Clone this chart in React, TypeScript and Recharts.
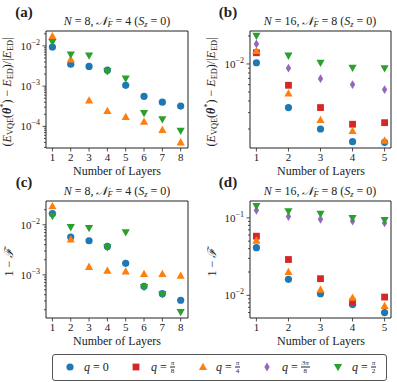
import React from 'react';
import { ReferenceArea, Scatter, ScatterChart, XAxis, YAxis } from 'recharts';

const LAYERS_N8 = [1, 2, 3, 4, 5, 6, 7, 8];
const LAYERS_N16 = [1, 2, 3, 4, 5];

// (a) relative energy error, N = 8
const ENERGY_N8_Q0 = [9.4e-3, 3.5e-3, 3.1e-3, 2.5e-3, 1.05e-3, 5.6e-4, 4.0e-4, 3.2e-4];
const ENERGY_N8_QPI4 = [1.74e-2, 4.6e-3, 4.4e-4, 2.4e-4, 1.7e-4, 1.3e-4, 8.1e-5, 4.0e-5];
const ENERGY_N8_QPI2 = [1.26e-2, 6.1e-3, 5.8e-3, 2.35e-3, 1.55e-3, 2.15e-4, 1.5e-4, 7.8e-5];

// (b) relative energy error, N = 16
const ENERGY_N16_Q0 = [1.03e-2, 3.4e-3, 2.0e-3, 1.46e-3, 1.44e-3];
const ENERGY_N16_QPI8 = [1.32e-2, 5.9e-3, 3.4e-3, 2.25e-3, 2.34e-3];
const ENERGY_N16_QPI4 = [1.38e-2, 4.8e-3, 2.5e-3, 1.9e-3, 1.5e-3];
const ENERGY_N16_Q3PI8 = [1.64e-2, 9.0e-3, 6.95e-3, 6.0e-3, 5.3e-3];
const ENERGY_N16_QPI2 = [2.01e-2, 1.23e-2, 1.03e-2, 9.1e-3, 9.0e-3];

// (c) infidelity, N = 8
const INFID_N8_Q0 = [1.67e-2, 5.7e-3, 4.8e-3, 3.7e-3, 1.7e-3, 5.9e-4, 4.2e-4, 3.1e-4];
const INFID_N8_QPI4 = [2.34e-2, 5.06e-3, 1.44e-3, 1.21e-3, 1.16e-3, 1.04e-3, 1.04e-3, 9.6e-4];
const INFID_N8_QPI2 = [1.5e-2, 9.0e-3, 8.6e-3, 3.55e-3, 7.1e-3, 5.7e-4, 4.1e-4, 1.8e-4];

// (d) infidelity, N = 16
const INFID_N16_Q0 = [0.0412, 0.0161, 0.0105, 7.6e-3, 6.0e-3];
const INFID_N16_QPI8 = [0.058, 0.029, 0.0164, 8.2e-3, 9.5e-3];
const INFID_N16_QPI4 = [0.0508, 0.02, 0.0118, 9.3e-3, 7.3e-3];
const INFID_N16_Q3PI8 = [0.125, 0.104, 0.096, 0.091, 0.086];
const INFID_N16_QPI2 = [0.142, 0.122, 0.113, 0.0995, 0.094];

const FONT = '"Liberation Serif", "DejaVu Serif", serif';
const INK = '#222';
const Y_AXIS_W = 40;
const X_AXIS_H = 24;

type Kind = 'circle' | 'square' | 'triangle' | 'diamond' | 'down';

const Q_STYLE: Record<string, { color: string; kind: Kind }> = {
  q0: { color: '#1f77b4', kind: 'circle' },
  qpi8: { color: '#d62728', kind: 'square' },
  qpi4: { color: '#ff7f0e', kind: 'triangle' },
  q3pi8: { color: '#9467bd', kind: 'diamond' },
  qpi2: { color: '#2ca02c', kind: 'down' },
};

function Marker({ kind, cx, cy, color }: { kind: Kind; cx: number; cy: number; color: string }) {
  if (cx == null || cy == null) return null;
  switch (kind) {
    case 'circle':
      return <circle cx={cx} cy={cy} r={3.6} fill={color} />;
    case 'square':
      return <rect x={cx - 3.4} y={cy - 3.4} width={6.8} height={6.8} fill={color} />;
    case 'triangle':
      return <polygon points={`${cx},${cy - 4.3} ${cx + 4.1},${cy + 3} ${cx - 4.1},${cy + 3}`} fill={color} />;
    case 'down':
      return <polygon points={`${cx},${cy + 4.3} ${cx + 4.1},${cy - 3} ${cx - 4.1},${cy - 3}`} fill={color} />;
    case 'diamond':
      return <polygon points={`${cx},${cy - 4.4} ${cx + 2.7},${cy} ${cx},${cy + 4.4} ${cx - 2.7},${cy}`} fill={color} />;
  }
  return null;
}

function logTicks(domain: [number, number]) {
  const out: number[] = [];
  const lo = Math.floor(Math.log10(domain[0]));
  const hi = Math.ceil(Math.log10(domain[1]));
  for (let e = lo; e <= hi; e++) {
    for (let m = 1; m <= 9; m++) {
      const v = Number((m * Math.pow(10, e)).toPrecision(3));
      if (v >= domain[0] && v <= domain[1]) out.push(v);
    }
  }
  return out;
}

function YTick(props: any) {
  const { x, y, payload } = props;
  const v = payload.value as number;
  const exp = Math.round(Math.log10(v));
  const major = Math.abs(Math.log10(v) - exp) < 1e-6;
  return (
    <g>
      <line x1={x} x2={x - (major ? 3.5 : 2)} y1={y} y2={y} stroke={INK} strokeWidth={0.8} />
      {major && (
        <text x={x - 6} y={y + 4} textAnchor="end" fontFamily={FONT} fontSize={11} fill={INK}>
          <tspan>10</tspan>
          <tspan dy={-5} fontSize={8}>{`\u2212${Math.abs(exp)}`}</tspan>
        </text>
      )}
    </g>
  );
}

function XTick(props: any) {
  const { x, y, payload } = props;
  return (
    <g>
      <line x1={x} x2={x} y1={y} y2={y + 3.5} stroke={INK} strokeWidth={0.8} />
      <text x={x} y={y + 13} textAnchor="middle" fontFamily={FONT} fontSize={11} fill={INK}>
        {payload.value}
      </text>
    </g>
  );
}

type Series = { key: string; values: number[] };
type Box = { x0: number; y0: number; x1: number; y1: number };

function Panel({
  left,
  top,
  width,
  height,
  plot,
  xDomain,
  yDomain,
  layers,
  series,
}: {
  left: number;
  top: number;
  width: number;
  height: number;
  plot: Box;
  xDomain: [number, number];
  yDomain: [number, number];
  layers: number[];
  series: Series[];
}) {
  const margin = {
    left: plot.x0 - left - Y_AXIS_W,
    top: plot.y0 - top,
    right: left + width - plot.x1,
    bottom: top + height - plot.y1 - X_AXIS_H,
  };
  return (
    <div style={{ position: 'absolute', left, top }}>
      <ScatterChart width={width} height={height} margin={margin}>
        <XAxis
          type="number"
          dataKey="x"
          domain={xDomain}
          ticks={layers}
          interval={0}
          allowDataOverflow
          height={X_AXIS_H}
          tickSize={0}
          tickMargin={0}
          axisLine={false}
          tickLine={false}
          tick={(p: any) => <XTick {...p} />}
        />
        <YAxis
          type="number"
          dataKey="y"
          scale="log"
          domain={yDomain}
          ticks={logTicks(yDomain)}
          interval={0}
          allowDataOverflow
          width={Y_AXIS_W}
          tickSize={0}
          tickMargin={0}
          axisLine={false}
          tickLine={false}
          tick={(p: any) => <YTick {...p} />}
        />
        <ReferenceArea
          x1={xDomain[0]}
          x2={xDomain[1]}
          y1={yDomain[0]}
          y2={yDomain[1]}
          fill="none"
          stroke={INK}
          strokeWidth={1}
          ifOverflow="visible"
        />
        {series.map((s) => {
          const st = Q_STYLE[s.key];
          const data = layers.map((x, i) => ({ x, y: s.values[i] }));
          return (
            <Scatter
              key={s.key}
              data={data}
              isAnimationActive={false}
              shape={(p: any) => <Marker kind={st.kind} cx={p.cx} cy={p.cy} color={st.color} />}
            />
          );
        })}
      </ScatterChart>
    </div>
  );
}

const sub: React.CSSProperties = { fontSize: '70%', verticalAlign: '-0.3em', fontStyle: 'normal' };
const sup: React.CSSProperties = { fontSize: '70%', verticalAlign: '0.5em' };

function Abs({ x, y, children, size = 12, rotate = false, weight = 400 }: any) {
  return (
    <div
      style={{
        position: 'absolute',
        left: x,
        top: y,
        transform: `translate(-50%, -50%)${rotate ? ' rotate(-90deg)' : ''}`,
        whiteSpace: 'nowrap',
        fontFamily: FONT,
        fontSize: size,
        fontWeight: weight,
        color: INK,
        lineHeight: 1,
      }}
    >
      {children}
    </div>
  );
}

function Title({ n, nf }: { n: number; nf: number }) {
  return (
    <>
      <i>N</i> = {n}, <i>{'\u{1D4A9}'}</i>
      <span style={sub}>
        <i>F</i>
      </span>{' '}
      = {nf} (<i>S</i>
      <span style={sub}>
        <i>z</i>
      </span>{' '}
      = 0)
    </>
  );
}

function EnergyLabel() {
  return (
    <>
      (<i>E</i>
      <span style={sub}>VQE</span>(<b>
        <i>θ</i>
      </b>
      <span style={sup}>*</span>) − <i>E</i>
      <span style={sub}>ED</span>)/|<i>E</i>
      <span style={sub}>ED</span>|
    </>
  );
}

function Frac({ num, den }: { num: string; den: string }) {
  return (
    <span
      style={{
        display: 'inline-flex',
        flexDirection: 'column',
        alignItems: 'center',
        fontSize: 7,
        lineHeight: '7px',
        verticalAlign: 'middle',
      }}
    >
      <span style={{ borderBottom: `0.6px solid ${INK}`, padding: '0 1px', fontStyle: 'italic' }}>{num}</span>
      <span>{den}</span>
    </span>
  );
}

const LEGEND_ITEMS: { key: string; mx: number; tx: number; label: React.ReactNode }[] = [
  { key: 'q0', mx: 69.5, tx: 84, label: <>= 0</> },
  { key: 'qpi8', mx: 136, tx: 151, label: <>= <Frac num="π" den="8" /></> },
  { key: 'qpi4', mx: 202.5, tx: 216, label: <>= <Frac num="π" den="4" /></> },
  { key: 'q3pi8', mx: 267, tx: 282, label: <>= <Frac num="3π" den="8" /></> },
  { key: 'qpi2', mx: 338, tx: 352, label: <>= <Frac num="π" den="2" /></> },
];

function LegendBox() {
  return (
    <>
      <div
        style={{
          position: 'absolute',
          left: 52,
          top: 354,
          width: 333,
          height: 25,
          border: '1px solid #555',
          borderRadius: 3,
        }}
      />
      {LEGEND_ITEMS.map((it) => {
        const st = Q_STYLE[it.key];
        return (
          <React.Fragment key={it.key}>
            <svg style={{ position: 'absolute', left: it.mx - 6, top: 366.5 - 6 }} width={12} height={12}>
              <Marker kind={st.kind} cx={6} cy={6} color={st.color} />
            </svg>
            <div
              style={{
                position: 'absolute',
                left: it.tx,
                top: 366.5,
                transform: 'translateY(-50%)',
                whiteSpace: 'nowrap',
                fontFamily: FONT,
                fontSize: 12,
                color: INK,
                lineHeight: 1,
                display: 'flex',
                alignItems: 'center',
                gap: 3,
              }}
            >
              <i>q</i>
              <span style={{ display: 'inline-flex', alignItems: 'center', gap: 3 }}>{it.label}</span>
            </div>
          </React.Fragment>
        );
      })}
    </>
  );
}

export default function App() {
  const N8: [number, number] = [0.65, 8.4];
  const N16: [number, number] = [0.8, 5.2];
  return (
    <div style={{ position: 'absolute', left: 0, top: 0, width: 397, height: 382, background: '#fff', overflow: 'hidden' }}>
      <Panel
        left={0}
        top={0}
        width={196}
        height={176}
        plot={{ x0: 46, y0: 31, x1: 188, y1: 148 }}
        xDomain={N8}
        yDomain={[2.9e-5, 2.35e-2]}
        layers={LAYERS_N8}
        series={[
          { key: 'q0', values: ENERGY_N8_Q0 },
          { key: 'qpi4', values: ENERGY_N8_QPI4 },
          { key: 'qpi2', values: ENERGY_N8_QPI2 },
        ]}
      />
      <Panel
        left={200}
        top={0}
        width={197}
        height={176}
        plot={{ x0: 250, y0: 31, x1: 391, y1: 148 }}
        xDomain={N16}
        yDomain={[1.25e-3, 2.26e-2]}
        layers={LAYERS_N16}
        series={[
          { key: 'q0', values: ENERGY_N16_Q0 },
          { key: 'qpi8', values: ENERGY_N16_QPI8 },
          { key: 'qpi4', values: ENERGY_N16_QPI4 },
          { key: 'q3pi8', values: ENERGY_N16_Q3PI8 },
          { key: 'qpi2', values: ENERGY_N16_QPI2 },
        ]}
      />
      <Panel
        left={0}
        top={180}
        width={196}
        height={152}
        plot={{ x0: 46, y0: 201, x1: 188, y1: 318 }}
        xDomain={N8}
        yDomain={[1.37e-4, 2.99e-2]}
        layers={LAYERS_N8}
        series={[
          { key: 'q0', values: INFID_N8_Q0 },
          { key: 'qpi4', values: INFID_N8_QPI4 },
          { key: 'qpi2', values: INFID_N8_QPI2 },
        ]}
      />
      <Panel
        left={200}
        top={180}
        width={197}
        height={152}
        plot={{ x0: 250, y0: 201, x1: 391, y1: 318 }}
        xDomain={N16}
        yDomain={[5.1e-3, 0.165]}
        layers={LAYERS_N16}
        series={[
          { key: 'q0', values: INFID_N16_Q0 },
          { key: 'qpi8', values: INFID_N16_QPI8 },
          { key: 'qpi4', values: INFID_N16_QPI4 },
          { key: 'q3pi8', values: INFID_N16_Q3PI8 },
          { key: 'qpi2', values: INFID_N16_QPI2 },
        ]}
      />

      <Abs x={24} y={12} size={15} weight={700}>(a)</Abs>
      <Abs x={228} y={12} size={15} weight={700}>(b)</Abs>
      <Abs x={24} y={182} size={15} weight={700}>(c)</Abs>
      <Abs x={228} y={182} size={15} weight={700}>(d)</Abs>

      <Abs x={117} y={22}><Title n={8} nf={4} /></Abs>
      <Abs x={320} y={22}><Title n={16} nf={8} /></Abs>
      <Abs x={117} y={192}><Title n={8} nf={4} /></Abs>
      <Abs x={320} y={192}><Title n={16} nf={8} /></Abs>

      <Abs x={8} y={92} rotate><EnergyLabel /></Abs>
      <Abs x={212} y={92} rotate><EnergyLabel /></Abs>
      <Abs x={9} y={262} rotate>1 − <i>ℱ</i></Abs>
      <Abs x={212} y={262} rotate>1 − <i>ℱ</i></Abs>

      <Abs x={117} y={171}>Number of Layers</Abs>
      <Abs x={321} y={171}>Number of Layers</Abs>
      <Abs x={117} y={341}>Number of Layers</Abs>
      <Abs x={321} y={341}>Number of Layers</Abs>

      <LegendBox />
    </div>
  );
}
